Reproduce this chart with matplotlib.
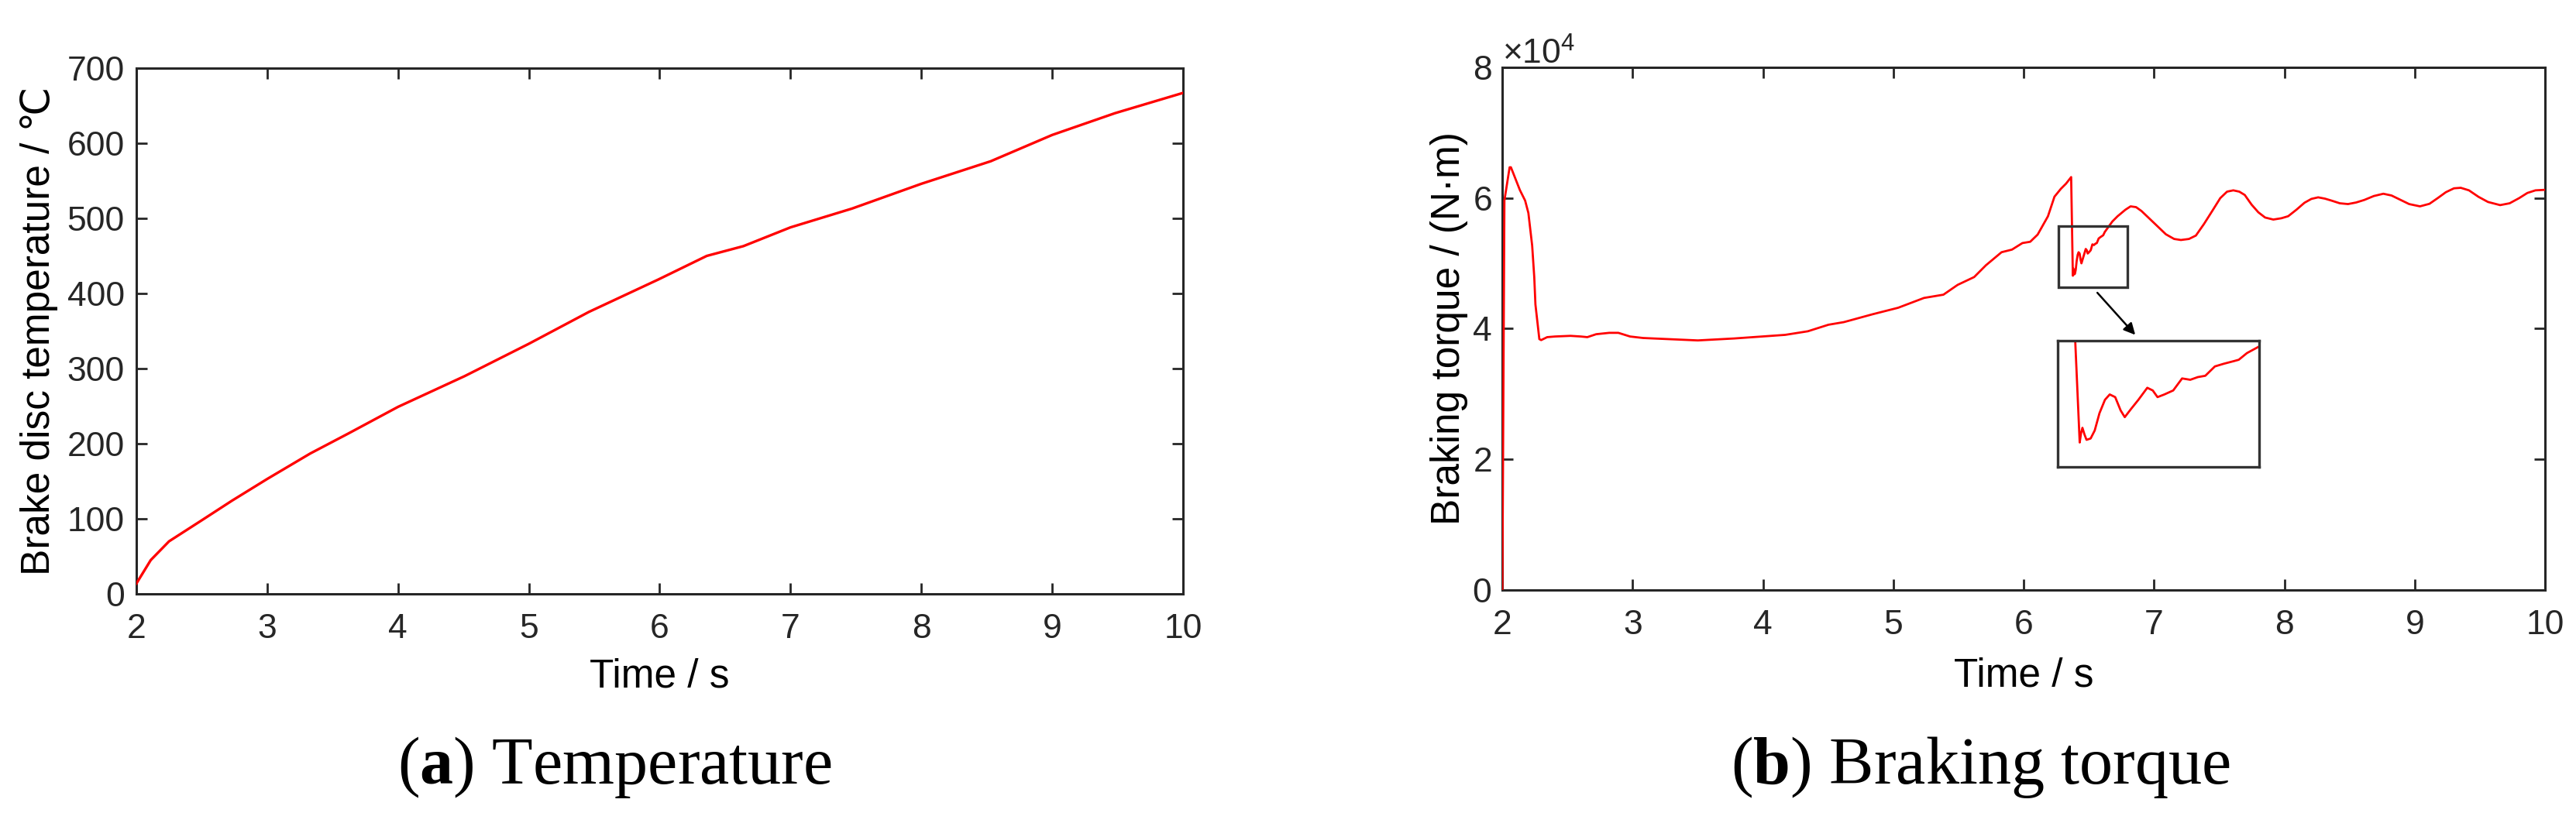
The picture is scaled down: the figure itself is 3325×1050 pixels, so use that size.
import matplotlib
matplotlib.use("Agg")
import matplotlib.pyplot as plt
from matplotlib.patches import Rectangle
import numpy as np

plt.rcParams['font.family'] = ['Liberation Sans', 'DejaVu Sans']
plt.rcParams['mathtext.fontset'] = 'custom'
plt.rcParams['mathtext.rm'] = 'Liberation Sans'
plt.rcParams['mathtext.bf'] = 'Liberation Serif:bold'

# (a) brake disc temperature, deg C
temp_time = [2.0, 2.11, 2.25, 2.50, 2.73, 3.0, 3.33, 3.62, 4.0, 4.51, 5.0, 5.46,
             5.99, 6.36, 6.64, 7.0, 7.47, 8.0, 8.53, 9.0, 9.48, 10.0]
temp_vals = [13.7, 45, 70, 98, 124, 153, 187, 213.5, 249, 290, 333, 375.5,
             418.6, 450, 463, 488, 513, 546, 576, 611, 640, 667]

# (b) braking torque, N*m
torque_time = [2.0, 2.016, 2.056, 2.066, 2.135, 2.175, 2.2, 2.229, 2.245, 2.254,
               2.284, 2.298, 2.344, 2.404, 2.523, 2.602, 2.652, 2.72, 2.82, 2.89,
               2.98, 3.08, 3.28, 3.5, 3.78, 3.99, 4.17, 4.344, 4.502, 4.62,
               4.84, 5.037, 5.235, 5.384, 5.493, 5.62, 5.71, 5.83, 5.91, 5.99,
               6.05, 6.107, 6.186, 6.236, 6.285, 6.325, 6.364,
               6.377, 6.379, 6.381, 6.384, 6.387, 6.393, 6.399, 6.406, 6.414, 6.421,
               6.429, 6.437, 6.443, 6.452, 6.463, 6.476, 6.484, 6.491, 6.501, 6.514,
               6.527, 6.539, 6.55, 6.561, 6.575, 6.588, 6.603, 6.61, 6.622, 6.64,
               6.68, 6.72, 6.78, 6.820, 6.862, 6.904, 6.966, 7.029, 7.091, 7.154,
               7.206, 7.268, 7.321, 7.383, 7.446, 7.508, 7.560, 7.608, 7.654, 7.696,
               7.748, 7.800, 7.852, 7.915, 7.977, 8.029, 8.092, 8.154, 8.207, 8.259,
               8.311, 8.363, 8.425, 8.488, 8.550, 8.613, 8.686, 8.759, 8.822, 8.884,
               8.957, 9.040, 9.113, 9.176, 9.239, 9.301, 9.353, 9.416, 9.489, 9.562,
               9.655, 9.728, 9.801, 9.864, 9.926, 10.0]
torque_vals = [0, 5.96, 6.47, 6.47, 6.12, 5.96, 5.77, 5.27, 4.79, 4.37,
               3.84, 3.825, 3.87, 3.88, 3.89, 3.88, 3.87, 3.915, 3.936, 3.936,
               3.88, 3.857, 3.84, 3.82, 3.85, 3.88, 3.905, 3.96, 4.06, 4.10,
               4.22, 4.32, 4.47, 4.52, 4.67, 4.79, 4.97, 5.17, 5.21, 5.31,
               5.33, 5.44, 5.72, 6.02, 6.14, 6.22, 6.32,
               4.81, 4.88, 4.92, 4.87, 4.83, 4.84, 4.90, 5.03, 5.13, 5.17,
               5.15, 5.05, 5.00, 5.06, 5.13, 5.22, 5.20, 5.15, 5.17, 5.20,
               5.29, 5.28, 5.30, 5.31, 5.38, 5.40, 5.42, 5.43, 5.48, 5.53,
               5.64, 5.72, 5.82, 5.872, 5.860, 5.800, 5.682, 5.563, 5.444, 5.373,
               5.357, 5.373, 5.425, 5.602, 5.800, 5.998, 6.097, 6.117, 6.097, 6.046,
               5.899, 5.781, 5.701, 5.670, 5.690, 5.721, 5.820, 5.927, 5.986, 6.010,
               5.990, 5.959, 5.919, 5.907, 5.931, 5.970, 6.030, 6.065, 6.038, 5.978,
               5.907, 5.872, 5.911, 5.998, 6.089, 6.148, 6.156, 6.117, 6.018, 5.939,
               5.891, 5.919, 5.998, 6.077, 6.117, 6.125]
torque_vals = [v * 1e4 for v in torque_vals]

axis_col = '#262626'
line_red = '#ff0000'

fig = plt.figure(figsize=(33.25, 10.5), dpi=100)
ax1 = fig.add_axes([0.05293, 0.2695, 0.4063, 0.6467])
ax2 = fig.add_axes([0.5832, 0.2743, 0.4048, 0.6429])


def style_axes(ax, ypad):
    for s in ax.spines.values():
        s.set_linewidth(2.2)
        s.set_color(axis_col)
    ax.tick_params(direction='in', length=10, width=2.0, colors=axis_col,
                   labelsize=32, top=True, right=True)
    ax.tick_params(axis='x', pad=18)
    ax.tick_params(axis='y', pad=ypad)


ax1.plot(temp_time, temp_vals, color=line_red, lw=2.4, zorder=3)
ax1.set_xlim(2, 10)
ax1.set_ylim(0, 700)
ax1.set_xticks(range(2, 11))
ax1.set_yticks(range(0, 701, 100))
style_axes(ax1, 11)
ax1.set_xlabel('Time / s', fontsize=37, va='baseline')
ax1.xaxis.set_label_coords(0.5, -0.177)
ax1.set_ylabel('Brake disc temperature / ℃', fontsize=37, va='center')
ax1.yaxis.set_label_coords(-0.093, 0.5)

ax2.plot(torque_time, torque_vals, color=line_red, lw=2.0, zorder=3)
ax2.set_xlim(2, 10)
ax2.set_ylim(0, 8e4)
ax2.set_xticks(range(2, 11))
ax2.set_yticks(np.arange(0, 8.1e4, 2e4))
ax2.ticklabel_format(axis='y', style='sci', scilimits=(4, 4), useMathText=True)
style_axes(ax2, 10)
ax2.yaxis.get_offset_text().set_fontsize(32)
ax2.yaxis.get_offset_text().set_color(axis_col)
ax2.set_xlabel('Time / s', fontsize=37, va='baseline')
ax2.xaxis.set_label_coords(0.5, -0.185)
ax2.set_ylabel('Braking torque / (N·m)', fontsize=37, va='center')
ax2.yaxis.set_label_coords(-0.0513, 0.5)

# zoom marker and magnified inset
ax2.add_patch(Rectangle((6.267, 4.63e4), 0.529, 0.94e4, fill=False,
                        edgecolor='#333333', lw=2.4, zorder=3))
ax2.annotate('', xy=(6.856, 3.905e4), xytext=(6.565, 4.55e4),
             arrowprops=dict(arrowstyle='-|>', color='black', lw=1.8,
                             mutation_scale=22, shrinkA=0, shrinkB=0))
axin = ax2.inset_axes([6.262, 1.89e4, 1.545, 1.92e4], transform=ax2.transData)
axin.plot(torque_time, torque_vals, color=line_red, lw=2.0)
axin.set_xlim(6.345, 6.64)
axin.set_ylim(4.63e4, 5.57e4)
axin.set_xticks([])
axin.set_yticks([])
for s in axin.spines.values():
    s.set_linewidth(2.4)
    s.set_color('#333333')

fig.text(0.2385, 0.0362, r'($\mathbf{a}$) Temperature', family='Liberation Serif',
         fontsize=62, ha='center', va='baseline')
fig.text(0.7687, 0.0362, r'($\mathbf{b}$) Braking torque', family='Liberation Serif',
         fontsize=62, ha='center', va='baseline')

fig.savefig('out.png', dpi=100)
